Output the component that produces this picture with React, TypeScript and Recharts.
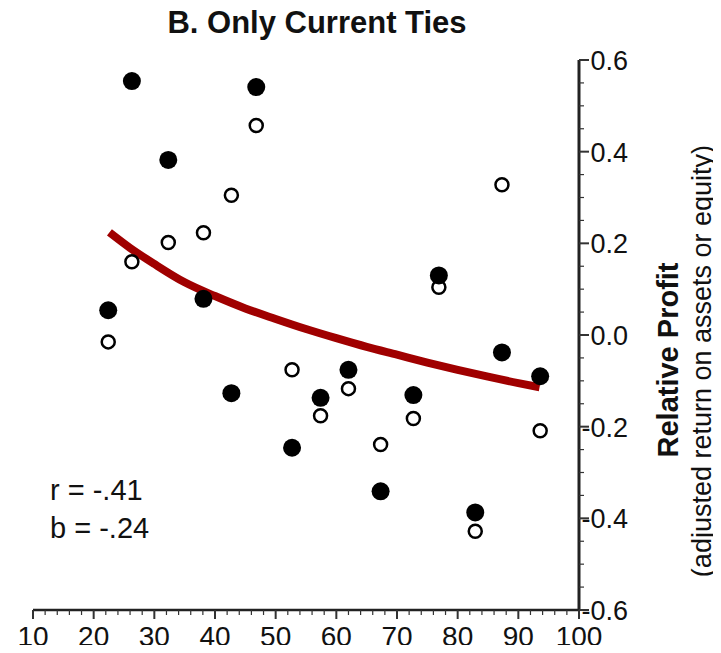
import React from 'react';
import { ComposedChart, Scatter, Line, XAxis, YAxis, Customized } from 'recharts';

// Firm groups: x = tie share (%), two measures of relative profit
const xValues = [22.4, 26.3, 32.3, 38.1, 42.7, 46.8, 52.7, 57.4, 62.0, 67.3, 72.7, 76.9, 82.9, 87.3, 93.6];
const filledValues = [0.054, 0.554, 0.382, 0.079, -0.127, 0.541, -0.246, -0.137, -0.076, -0.341, -0.131, 0.13, -0.387, -0.038, -0.09];
const openValues = [-0.015, 0.16, 0.202, 0.223, 0.305, 0.457, -0.076, -0.176, -0.117, -0.239, -0.182, 0.104, -0.428, 0.328, -0.209];

// Fitted curve
const curveX = [22.6, 26, 30, 35, 40, 45, 50, 55, 60, 65, 70, 75, 80, 85, 90, 93.5];
const curveY = [0.224, 0.19, 0.155, 0.115, 0.085, 0.058, 0.035, 0.013, -0.007, -0.026, -0.043, -0.06, -0.076, -0.091, -0.105, -0.114];

const X_MAJOR = [10, 20, 30, 40, 50, 60, 70, 80, 90, 100];
const X_MINOR = [12, 14, 16, 18, 22, 24, 26, 28, 32, 34, 36, 38, 42, 44, 46, 48, 52, 54, 56, 58, 62, 64, 66, 68, 72, 74, 76, 78, 82, 84, 86, 88, 92, 94, 96, 98];
const Y_MAJOR = [-0.6, -0.4, -0.2, 0, 0.2, 0.4, 0.6];
const Y_MINOR = [-0.55, -0.5, -0.45, -0.35, -0.3, -0.25, -0.15, -0.1, -0.05, 0.05, 0.1, 0.15, 0.25, 0.3, 0.35, 0.45, 0.5, 0.55];

const TITLE = 'B. Only Current Ties';
const Y_LABEL = 'Relative Profit';
const Y_SUBLABEL = '(adjusted return on assets or equity)';
const STATS = ['r = -.41', 'b = -.24'];

const FONT = '"Liberation Sans", Arial, Helvetica, sans-serif';

const filledData = xValues.map((x, i) => ({ x, y: filledValues[i] }));
const openData = xValues.map((x, i) => ({ x, y: openValues[i] }));
const curveData = curveX.map((x, i) => ({ x, y: curveY[i] }));

const isMajor = (arr: number[], v: number) => arr.some((m) => Math.abs(m - v) < 1e-6);

const XTick = (props: any) => {
  const { x, y, payload } = props;
  const v = payload.value;
  const major = isMajor(X_MAJOR, v);
  return (
    <g>
      <line x1={x} x2={x} y1={y} y2={y + (major ? 9 : 5)} stroke="#333" strokeWidth={major ? 2 : 1.2} />
      {major && (
        <text x={x} y={y + 36} textAnchor="middle" fontSize={28} fill="#111" fontFamily={FONT}>
          {v}
        </text>
      )}
    </g>
  );
};

const YTick = (props: any) => {
  const { x, y, payload } = props;
  const v = payload.value;
  const major = isMajor(Y_MAJOR, v);
  return (
    <g>
      <line x1={x} x2={x + (major ? 10 : 5)} y1={y} y2={y} stroke="#333" strokeWidth={major ? 2 : 1.2} />
      {major && (
        <text x={x + 49} y={y + 10} textAnchor="end" fontSize={27} fill="#111" fontFamily={FONT}>
          {Math.abs(v) < 1e-9 ? '0.0' : v.toFixed(1)}
        </text>
      )}
    </g>
  );
};

const FilledDot = (props: any) => <circle cx={props.cx} cy={props.cy} r={9} fill="#000" />;
const OpenDot = (props: any) => (
  <circle cx={props.cx} cy={props.cy} r={6.5} fill="#fff" stroke="#000" strokeWidth={2.5} />
);

const Annotations = () => (
  <g fontFamily={FONT} fill="#111">
    <text x={317} y={33} textAnchor="middle" fontSize={31} fontWeight="bold">
      {TITLE}
    </text>
    <text x={50} y={500} fontSize={29}>
      {STATS[0]}
    </text>
    <text x={50} y={538} fontSize={29}>
      {STATS[1]}
    </text>
    <text
      x={668}
      y={360}
      textAnchor="middle"
      dominantBaseline="central"
      fontSize={29}
      fontWeight="bold"
      transform="rotate(-90 668 360)"
    >
      {Y_LABEL}
    </text>
    <text
      x={702}
      y={361}
      textAnchor="middle"
      dominantBaseline="central"
      fontSize={27}
      transform="rotate(-90 702 361)"
    >
      {Y_SUBLABEL}
    </text>
  </g>
);

export default function App() {
  return (
    <div style={{ width: 721, height: 653, margin: -8 }}>
      <ComposedChart width={721} height={653} margin={{ top: 60, right: 0, bottom: 0, left: 33 }}>
        <XAxis
          type="number"
          dataKey="x"
          domain={[10, 100]}
          ticks={[...X_MAJOR, ...X_MINOR].sort((a, b) => a - b)}
          interval={0}
          tickSize={0}
          tickMargin={0}
          tickLine={false}
          tick={<XTick />}
          height={43}
          axisLine={{ stroke: '#222', strokeWidth: 2.5 }}
          allowDataOverflow
        />
        <YAxis
          type="number"
          dataKey="y"
          orientation="right"
          domain={[-0.6, 0.6]}
          ticks={[...Y_MAJOR, ...Y_MINOR].sort((a, b) => a - b)}
          interval={0}
          tickSize={0}
          tickMargin={0}
          tickLine={false}
          tick={<YTick />}
          width={142}
          axisLine={{ stroke: '#222', strokeWidth: 3 }}
          allowDataOverflow
        />
        <Line
          data={curveData}
          dataKey="y"
          type="monotone"
          stroke="#A00000"
          strokeWidth={8}
          dot={false}
          activeDot={false}
          isAnimationActive={false}
        />
        <Scatter data={openData} dataKey="y" shape={<OpenDot />} isAnimationActive={false} />
        <Scatter data={filledData} dataKey="y" shape={<FilledDot />} isAnimationActive={false} />
        <Customized component={Annotations} />
      </ComposedChart>
    </div>
  );
}
